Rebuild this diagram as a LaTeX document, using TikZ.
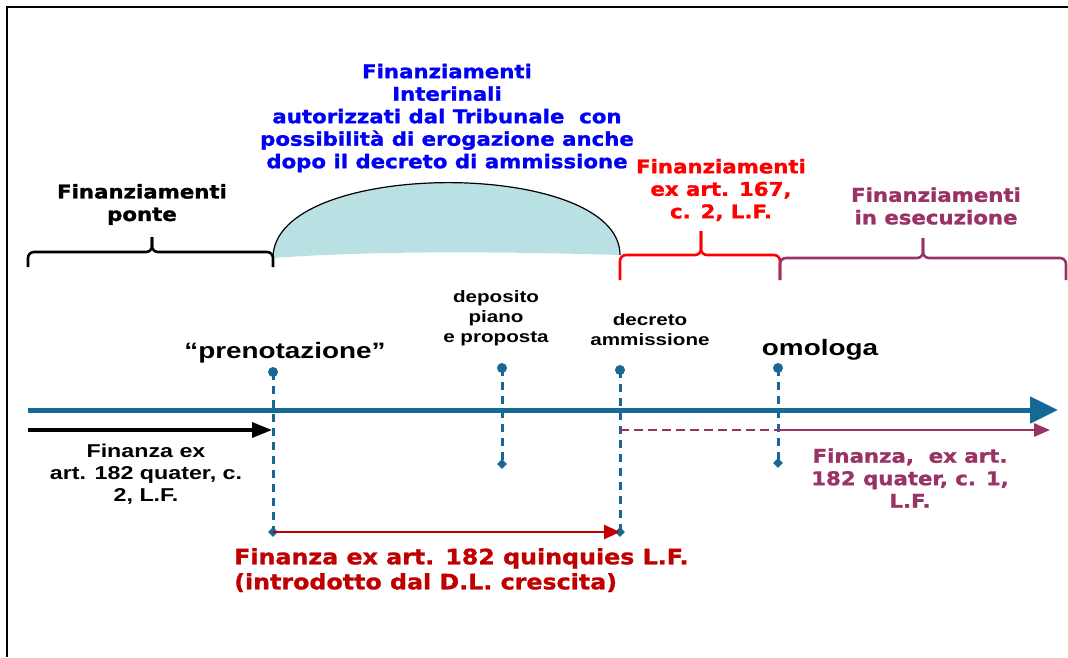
\documentclass[tikz,border=0pt]{standalone}
\usepackage{fontspec}
\setmainfont{DejaVu Sans}
\newfontfamily\vfont{DejaVu Sans}[FakeStretch=1.12,FakeBold=1.2]
\newfontfamily\afont{Liberation Sans}[FakeStretch=1.25]
\usetikzlibrary{arrows.meta,shapes.geometric}
\definecolor{tl}{RGB}{22,104,150}
\definecolor{domec}{RGB}{185,224,227}
\definecolor{pblue}{RGB}{0,0,245}
\definecolor{pred}{RGB}{255,0,0}
\definecolor{ppur}{RGB}{153,51,102}
\definecolor{dred}{RGB}{192,0,0}
\tikzset{
  vtext/.style={font=\vfont\bfseries\fontsize{19}{22.5}\selectfont, align=center, inner sep=0pt},
  vbig/.style={font=\vfont\bfseries\fontsize{21.2}{25}\selectfont, align=left, inner sep=0pt},
  atext/.style={font=\afont\bfseries\fontsize{18.6}{22}\selectfont, align=center, inner sep=0pt},
  asmall/.style={font=\afont\bfseries\fontsize{16.5}{20}\selectfont, align=center, inner sep=0pt},
  alarge/.style={font=\afont\bfseries\fontsize{22.3}{25}\selectfont, align=center, inner sep=0pt},
  bracepen/.style={line width=2.6pt, rounded corners=6pt},
  pin/.style={tl, line width=3pt, dash pattern=on 8pt off 6pt},
  pindot/.style={circle, fill=tl, inner sep=0pt, minimum size=10pt},
  pinend/.style={diamond, fill=tl, inner sep=0pt, minimum size=10pt},
}
\begin{document}
\begin{tikzpicture}[x=1pt,y=-1pt]
\useasboundingbox (0,0) rectangle (1068,657);
% frame
\draw[line width=2pt] (7,657) -- (7,7) -- (1068,7);

% dome
\fill[domec] (273,258) .. controls (273,158) and (620,158) .. (620,255)
  .. controls (520,252) and (380,250) .. (273,258) -- cycle;
\draw[line width=1.2pt] (273,258) .. controls (273,158) and (620,158) .. (620,255);

% braces
\draw[bracepen] (28,267) -- (28,252) -- (152,252) -- (152,237);
\draw[bracepen] (273,267) -- (273,252) -- (152,252) -- (152,237);
\draw[bracepen, pred] (620,280) -- (620,255) -- (701,255) -- (701,231);
\draw[bracepen, pred] (780,280) -- (780,255) -- (701,255) -- (701,231);
\draw[bracepen, ppur] (780,280) -- (780,258) -- (923,258) -- (923,238);
\draw[bracepen, ppur] (1066,280) -- (1066,258) -- (923,258) -- (923,238);

% top labels
\node[vtext] (ponte) at (142,204.5) {Finanziamenti\\ponte};
\node[vtext, pblue] (interinali) at (447,118) {Finanziamenti\\Interinali\\autorizzati dal Tribunale~ con\\possibilità di erogazione anche\\dopo il decreto di ammissione};
\node[vtext, pred] (art167) at (721,190) {Finanziamenti\\ex art. 167,\\c. 2, L.F.};
\node[vtext, ppur] (esec) at (936,206) {Finanziamenti\\in esecuzione};

% event labels
\node[asmall] (deposito) at (496,318) {deposito\\piano\\e proposta};
\node[asmall] (decreto) at (650,330) {decreto\\ammissione};
\node[alarge] (prenot) at (285,353) {“prenotazione”};
\node[alarge] (omologa) at (820,350) {omologa};

% timeline
\coordinate (tlS) at (28,410);
\coordinate (tlE) at (1058,410);
\draw[tl, line width=5pt, -{Triangle[length=28pt,width=26pt]}] (tlS) -- (tlE);

% pins
\node[pindot] (p1) at (273,372) {};
\node[pindot] (p2) at (502,368) {};
\node[pindot] (p3) at (620,370) {};
\node[pindot] (p4) at (778,368) {};
\node[pinend] (e1) at (273,532) {};
\node[pinend] (e2) at (502,464) {};
\node[pinend] (e3) at (620,532) {};
\node[pinend] (e4) at (778,463) {};
\draw[pin] (p1.center) -- (e1.center);
\draw[pin] (p2.center) -- (e2.center);
\draw[pin] (p3.center) -- (e3.center);
\draw[pin] (p4.center) -- (e4.center);

% black arrow
\coordinate (bS) at (28,430);
\coordinate (bE) at (272,430);
\draw[line width=3.3pt, -{Triangle[length=20pt,width=15pt]}] (bS) -- (bE);
\node[atext] (f182q2) at (146,474) {Finanza ex\\art. 182 quater, c.\\2, L.F.};

% purple arrow
\coordinate (pS) at (620,430);
\coordinate (pM) at (778,430);
\coordinate (pE) at (1050,430);
\draw[ppur, line width=2.8pt, dash pattern=on 9pt off 5pt] (pS) -- (pM);
\draw[ppur, line width=2.8pt, -{Triangle[length=16pt,width=13pt]}] (pM) -- (pE);
\node[vtext, ppur] (f182q1) at (910,478) {Finanza,~ ex art.\\182 quater, c. 1,\\L.F.};

% red arrow
\draw[dred, line width=2.5pt, -{Triangle[length=16pt,width=14pt]}] (e1.center) -- (e3.center);
\node[vbig, dred, anchor=north west] (quinq) at (234,548) {Finanza ex art. 182 quinquies L.F.\\(introdotto dal D.L. crescita)};
\end{tikzpicture}
\end{document}
